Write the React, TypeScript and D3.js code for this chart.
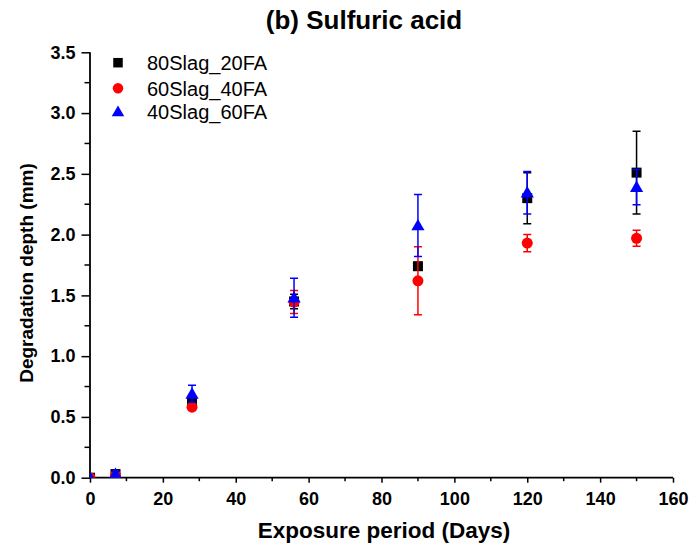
import React, { useEffect, useRef } from "react";
import * as d3 from "d3";

const days = [0, 7, 28, 56, 90, 120, 150];
const seriesNames = ["80Slag_20FA", "60Slag_40FA", "40Slag_60FA"];
const seriesColors = ["#000000", "#ff0000", "#0000ff"];
const seriesShapes = ["square", "circle", "triangle"];
const slag80Values = [0, 0.03, 0.63, 1.45, 1.74, 2.3, 2.51];
const slag80Errors = [0, 0.01, 0.03, 0.06, 0.03, 0.21, 0.34];
const slag60Values = [0, 0.02, 0.58, 1.445, 1.62, 1.93, 1.97];
const slag60Errors = [0, 0.01, 0.02, 0.095, 0.28, 0.07, 0.065];
const slag40Values = [0, 0.03, 0.69, 1.48, 2.075, 2.345, 2.39];
const slag40Errors = [0, 0.02, 0.07, 0.16, 0.255, 0.175, 0.145];
const xTicks = [0, 20, 40, 60, 80, 100, 120, 140, 160];
const yTicks = [0, 0.5, 1, 1.5, 2, 2.5, 3, 3.5];

const W = 691;
const H = 547;
const margin = { left: 90, right: 18, top: 52.3, bottom: 69.3 };

export default function App() {
  const ref = useRef<SVGSVGElement>(null);
  useEffect(() => {
    const svg = d3.select(ref.current);
    svg.selectAll("*").remove();
    const x = d3.scaleLinear().domain([0, 160]).range([margin.left, W - margin.right]);
    const y = d3.scaleLinear().domain([0, 3.5]).range([H - margin.bottom, margin.top]);
    const font = "'Liberation Sans', Arial, Helvetica, sans-serif";

    svg
      .append("defs")
      .append("clipPath")
      .attr("id", "plotclip")
      .append("rect")
      .attr("x", x(0))
      .attr("y", y(3.5))
      .attr("width", x(160) - x(0))
      .attr("height", y(0) - y(3.5));

    svg
      .append("text")
      .attr("x", 364)
      .attr("y", 29)
      .attr("text-anchor", "middle")
      .attr("font-family", font)
      .attr("font-weight", "bold")
      .attr("font-size", 26)
      .text("(b) Sulfuric acid");

    const xAxis = d3
      .axisBottom(x)
      .tickValues(xTicks)
      .tickSize(5)
      .tickPadding(10)
      .tickFormat(d3.format("d"));
    const gx = svg.append("g").attr("transform", `translate(0,${y(0)})`).call(xAxis);
    const xMinor = d3.range(10, 160, 20);
    gx.selectAll(".minor")
      .data(xMinor)
      .enter()
      .append("line")
      .attr("x1", (d) => x(d))
      .attr("x2", (d) => x(d))
      .attr("y1", 0)
      .attr("y2", 3.5)
      .attr("stroke", "#000")
      .attr("stroke-width", 1.5);

    const yAxis = d3
      .axisLeft(y)
      .tickValues(yTicks)
      .tickSize(8.5)
      .tickPadding(6)
      .tickFormat(d3.format(".1f"));
    const gy = svg.append("g").attr("transform", `translate(${x(0)},0)`).call(yAxis);
    const yMinor = d3.range(0.25, 3.5, 0.5);
    gy.selectAll(".minor")
      .data(yMinor)
      .enter()
      .append("line")
      .attr("x1", 0)
      .attr("x2", -5.5)
      .attr("y1", (d) => y(d))
      .attr("y2", (d) => y(d))
      .attr("stroke", "#000")
      .attr("stroke-width", 1.5);

    [gx, gy].forEach((g) => {
      g.select(".domain").attr("stroke-width", 1.8).attr("stroke", "#000");
      g.selectAll(".tick line").attr("stroke-width", 1.5).attr("stroke", "#000");
      g.selectAll(".tick text")
        .attr("font-family", font)
        .attr("font-weight", "bold")
        .attr("font-size", 18)
        .attr("fill", "#000");
    });
    gx.select(".domain").attr("d", `M${x(0)},0H${x(160)}`);
    gy.select(".domain").attr("d", `M0,${y(0)}V${y(3.5)}`);

    svg
      .append("text")
      .attr("x", 384)
      .attr("y", 538)
      .attr("text-anchor", "middle")
      .attr("font-family", font)
      .attr("font-weight", "bold")
      .attr("font-size", 22.5)
      .text("Exposure period (Days)");
    svg
      .append("text")
      .attr("transform", `translate(33,273) rotate(-90)`)
      .attr("text-anchor", "middle")
      .attr("font-family", font)
      .attr("font-weight", "bold")
      .attr("font-size", 19)
      .text("Degradation depth (mm)");

    const values = [slag80Values, slag60Values, slag40Values];
    const errors = [slag80Errors, slag60Errors, slag40Errors];

    const drawMarker = (g: any, shape: string, cx: number, cy: number, color: string, s: number) => {
      if (shape === "square") {
        g.append("rect")
          .attr("x", cx - 5 * s)
          .attr("y", cy - 5 * s)
          .attr("width", 10 * s)
          .attr("height", 10 * s)
          .attr("fill", color);
      } else if (shape === "circle") {
        g.append("circle").attr("cx", cx).attr("cy", cy).attr("r", 5.5 * s).attr("fill", color);
      } else {
        const sym = d3.symbol().type(d3.symbolTriangle).size(75 * s * s);
        g.append("path")
          .attr("d", sym() as string)
          .attr("transform", `translate(${cx},${cy + 1})`)
          .attr("fill", color);
      }
    };

    const plot = svg.append("g").attr("clip-path", "url(#plotclip)");
    values.forEach((vals, si) => {
      const color = seriesColors[si];
      const g = plot.append("g");
      vals.forEach((v, i) => {
        const e = errors[si][i];
        const cx = x(days[i]);
        if (e > 0.015) {
          g.append("line")
            .attr("x1", cx)
            .attr("x2", cx)
            .attr("y1", y(v - e))
            .attr("y2", y(v + e))
            .attr("stroke", color)
            .attr("stroke-width", 1.5);
          [v - e, v + e].forEach((yy) => {
            g.append("line")
              .attr("x1", cx - 4)
              .attr("x2", cx + 4)
              .attr("y1", y(yy))
              .attr("y2", y(yy))
              .attr("stroke", color)
              .attr("stroke-width", 1.5);
          });
        }
        drawMarker(g, seriesShapes[si], cx, y(v), color, 1);
      });
    });

    const legendY = [62.7, 88.3, 111.7];
    seriesNames.forEach((name, i) => {
      const lg = svg.append("g");
      drawMarker(lg, seriesShapes[i], 118, legendY[i], seriesColors[i], 0.95);
      lg.append("text")
        .attr("x", 147)
        .attr("y", legendY[i])
        .attr("dy", "0.36em")
        .attr("font-family", font)
        .attr("font-size", 20)
        .text(name);
    });
  }, []);

  return (
    <svg
      ref={ref}
      width={W}
      height={H}
      style={{ position: "absolute", left: 0, top: 0, background: "#fff" }}
    />
  );
}
